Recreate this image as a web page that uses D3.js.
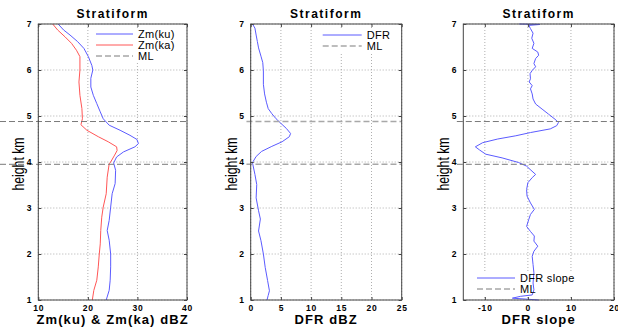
<!DOCTYPE html>
<html>
<head>
<meta charset="utf-8">
<script src="https://cdn.jsdelivr.net/npm/d3@7"></script>
<style>
  body { margin: 0; background: #fff; }
  svg { display: block; font-family: "Liberation Sans", Arial, sans-serif; }
  .grid line { stroke: #9a9a9a; stroke-dasharray: 1,2; stroke-width: 0.8; }
  .tickLabel { font-size: 8.5px; font-weight: bold; letter-spacing: 0.8px; fill: #000; }
  .title { font-size: 12px; font-weight: bold; letter-spacing: 1.5px; }
  .xLabel { font-size: 13px; font-weight: bold; letter-spacing: 1.1px; }
  .yLabel { font-size: 17px; }
  .legendText { font-size: 11px; letter-spacing: 0.3px; }
</style>
</head>
<body>
<div id="chart"></div>
<script>
// heights (km) and values, top to bottom
var zmKuHeight = [7.0,6.87,6.76,6.62,6.47,6.29,6.1,6.0,5.82,5.63,5.45,5.27,5.09,4.94,4.8,4.69,4.58,4.49,4.4,4.33,4.22,4.11,3.98,3.82,3.53,3.31,3.02,2.73,2.51,2.3,2.0,1.72,1.43,1.21,1.0];
var zmKu = [14.0,15.1,16.4,17.9,19.2,20.1,20.8,21.0,20.6,20.6,21.1,21.8,22.5,23.1,24.3,26.5,28.5,29.9,30.2,29.5,27.2,25.8,25.2,25.6,25.5,24.9,24.6,24.3,23.9,24.3,24.6,24.6,24.5,24.3,23.7];

var zmKaHeight = [7.0,6.87,6.72,6.58,6.43,6.29,6.0,5.74,5.45,5.16,4.94,4.81,4.69,4.55,4.44,4.33,4.25,4.15,4.0,3.96,3.67,3.31,3.02,2.8,2.51,2.22,2.0,1.72,1.43,1.21,1.0];
var zmKa = [12.9,13.9,15.4,16.7,17.7,18.4,18.4,18.2,18.4,18.8,18.9,18.6,19.8,22.1,24.1,25.8,25.9,25.4,24.6,24.3,23.9,23.7,23.1,22.8,22.6,22.5,22.3,22.1,21.8,21.2,20.9];

var dfrHeight = [7.0,6.91,6.76,6.62,6.48,6.3,6.16,5.98,5.69,5.48,5.3,5.16,5.05,4.94,4.84,4.73,4.62,4.55,4.44,4.34,4.23,4.12,4.01,3.98,3.73,3.51,3.22,2.94,2.76,2.5,2.29,2.0,1.71,1.42,1.2,1.1,1.0];
var dfr = [0.3,0.7,0.9,1.1,1.3,1.7,2.0,2.1,2.1,2.3,2.6,2.9,3.5,4.2,5.0,5.9,6.6,6.4,5.2,3.5,1.8,0.9,0.4,0.3,0.7,1.0,0.9,1.3,1.6,1.3,1.7,2.1,2.4,2.8,3.1,2.9,2.7];

var slopeHeight = [7.0,6.99,6.97,6.9,6.8,6.69,6.58,6.47,6.39,6.32,6.25,6.14,6.07,5.99,5.92,5.81,5.74,5.66,5.59,5.48,5.37,5.26,5.15,5.04,4.93,4.86,4.79,4.72,4.64,4.57,4.5,4.42,4.33,4.26,4.17,4.09,3.99,3.91,3.84,3.73,3.66,3.55,3.4,3.26,3.11,2.97,2.86,2.75,2.6,2.49,2.39,2.28,2.17,2.06,1.95,1.77,1.59,1.37,1.22,1.11,1.08,1.04,1.0];
var dfrSlope = [-2.0,2.8,0.2,0.6,1.2,0.9,1.4,1.0,2.3,2.5,1.8,1.4,1.8,1.0,0.5,0.6,0.3,1.0,0.6,1.0,1.2,1.8,3.3,4.8,6.3,7.1,6.7,5.2,0.6,-2.8,-7.0,-10.5,-12.2,-11.2,-9.8,-6.0,-2.2,-0.3,0.5,1.8,1.0,0.0,-0.3,-0.2,0.6,1.5,0.6,0.2,-0.3,0.6,1.5,1.4,2.3,1.4,1.0,1.2,1.4,1.2,1.4,1.0,-1.7,-3.6,2.5];

// melting layer top / bottom
var mlHeights = [4.88, 3.95];

var heightTicks = [1,2,3,4,5,6,7];
var zmTicks = [10,20,30,40];
var dfrTicks = [0,5,10,15,20,25];
var slopeTicks = [-10,0,10,20];

var width = 618, height = 330;
var plotTop = 24, plotBottom = 300;

var svg = d3.select("#chart").append("svg")
    .attr("width", width)
    .attr("height", height);

var y = d3.scaleLinear().domain([1, 7]).range([plotBottom, plotTop]);

function zip(hs, vs) {
    return hs.map(function(h, i) { return {h: h, v: vs[i]}; });
}

/**
 * draws one profile panel
 */
function drawPanel(p) {
    var x = d3.scaleLinear().domain(p.domain).range([p.left, p.right]);
    var g = svg.append("g");

    // dotted grid
    var grid = g.append("g").attr("class", "grid");
    grid.selectAll("line.gx").data(p.ticks).enter().append("line")
        .attr("class", "gx")
        .attr("x1", function(d) { return x(d); }).attr("x2", function(d) { return x(d); })
        .attr("y1", plotTop).attr("y2", plotBottom);
    grid.selectAll("line.gy").data(heightTicks).enter().append("line")
        .attr("class", "gy")
        .attr("y1", function(d) { return y(d); }).attr("y2", function(d) { return y(d); })
        .attr("x1", p.left).attr("x2", p.right);

    // legend background (drawn before the curves like the original)
    var lg = p.legend;
    g.append("rect")
        .attr("x", lg.x - 4).attr("y", lg.y - 6)
        .attr("width", lg.w).attr("height", lg.items.length * 11 + 1)
        .attr("fill", "#fff");

    var line = d3.line()
        .x(function(d) { return x(d.v); })
        .y(function(d) { return y(d.h); });

    p.series.forEach(function(s) {
        g.append("path")
            .datum(zip(s.h, s.v))
            .attr("d", line)
            .attr("fill", "none")
            .attr("stroke", s.color)
            .attr("stroke-width", 1);
    });

    // melting layer lines
    g.selectAll("line.ml").data(mlHeights).enter().append("line")
        .attr("class", "ml")
        .attr("x1", Math.max(0, x(p.mlFrom))).attr("x2", p.right)
        .attr("y1", function(d) { return y(d); }).attr("y2", function(d) { return y(d); })
        .attr("stroke", p.mlColor)
        .attr("stroke-width", p.mlWidth)
        .attr("stroke-dasharray", "6,3");

    // axes: box with inward ticks
    var tick = 3;
    var axisColor = "#444";
    g.append("rect")
        .attr("x", p.left).attr("y", plotTop)
        .attr("width", p.right - p.left).attr("height", plotBottom - plotTop)
        .attr("fill", "none").attr("stroke", axisColor).attr("stroke-width", 1);

    var bottomAxis = d3.axisBottom(x).tickValues(p.ticks).tickSizeInner(-tick).tickSizeOuter(0);
    var gx = g.append("g").attr("transform", "translate(0," + plotBottom + ")").call(bottomAxis);
    gx.select(".domain").remove();
    gx.selectAll(".tick line").attr("stroke", axisColor);
    gx.selectAll(".tick text").attr("class", "tickLabel").attr("y", 5).attr("dy", "0.71em")
        .text(function(d) { return d < 0 ? "-" + Math.abs(d) : d; });

    var topAxis = d3.axisTop(x).tickValues(p.ticks).tickSizeInner(-tick).tickSizeOuter(0).tickFormat("");
    var gt = g.append("g").attr("transform", "translate(0," + plotTop + ")").call(topAxis);
    gt.select(".domain").remove();
    gt.selectAll(".tick line").attr("stroke", axisColor);

    var leftAxis = d3.axisLeft(y).tickValues(heightTicks).tickSizeInner(-tick).tickSizeOuter(0).tickFormat(d3.format("d"));
    var gy = g.append("g").attr("transform", "translate(" + p.left + ",0)").call(leftAxis);
    gy.select(".domain").remove();
    gy.selectAll(".tick line").attr("stroke", axisColor);
    gy.selectAll(".tick text").attr("class", "tickLabel").attr("x", -6);

    var rightAxis = d3.axisRight(y).tickValues(heightTicks).tickSizeInner(-tick).tickSizeOuter(0).tickFormat("");
    var gr = g.append("g").attr("transform", "translate(" + p.right + ",0)").call(rightAxis);
    gr.select(".domain").remove();
    gr.selectAll(".tick line").attr("stroke", axisColor);

    // let the css classes set the fonts
    g.selectAll("g").attr("font-family", null).attr("font-size", null);

    // legend entries
    lg.items.forEach(function(it, i) {
        var ly = lg.y + i * 11;
        g.append("line")
            .attr("x1", lg.x).attr("x2", lg.x + lg.lineLen)
            .attr("y1", ly).attr("y2", ly)
            .attr("stroke", it.color)
            .attr("stroke-width", it.dash ? p.mlWidth : 1)
            .attr("stroke-dasharray", it.dash ? "6,3" : null);
        g.append("text")
            .attr("class", "legendText")
            .attr("x", lg.x + lg.lineLen + 5).attr("y", ly + 4)
            .text(it.label);
    });

    // texts
    var cx = (p.left + p.right) / 2;
    g.append("text").attr("class", "title")
        .attr("x", cx).attr("y", 18).attr("text-anchor", "middle")
        .text("Stratiform");
    g.append("text").attr("class", "xLabel")
        .attr("x", cx).attr("y", 324).attr("text-anchor", "middle")
        .text(p.xLabel);
    g.append("text").attr("class", "yLabel")
        .attr("text-anchor", "middle")
        .attr("transform", "translate(" + (p.left - 14) + ",164) rotate(-90) scale(0.72,1)")
        .text("height km");
}

var blue = "#5b5bff", red = "#ff5656", mlGray = "#7a7a7a";

drawPanel({
    left: 38.3, right: 187, domain: [10, 40], ticks: zmTicks,
    mlFrom: 0, mlColor: mlGray, mlWidth: 1,
    series: [
        {h: zmKuHeight, v: zmKu, color: blue},
        {h: zmKaHeight, v: zmKa, color: red}
    ],
    legend: {x: 96, y: 34, w: 94, lineLen: 37, items: [
        {label: "Zm(ku)", color: blue},
        {label: "Zm(ka)", color: red},
        {label: "ML", color: mlGray, dash: true}
    ]},
    xLabel: "Zm(ku) & Zm(ka) dBZ"
});

drawPanel({
    left: 250.7, right: 401.7, domain: [0, 25], ticks: dfrTicks,
    mlFrom: -0.7, mlColor: "#a8a8a8", mlWidth: 1.6,
    series: [
        {h: dfrHeight, v: dfr, color: blue}
    ],
    legend: {x: 322.7, y: 35, w: 82, lineLen: 39, items: [
        {label: "DFR", color: blue},
        {label: "ML", color: "#a8a8a8", dash: true}
    ]},
    xLabel: "DFR dBZ"
});

drawPanel({
    left: 463.3, right: 614, domain: [-15, 20], ticks: slopeTicks,
    mlFrom: -16.5, mlColor: mlGray, mlWidth: 1,
    series: [
        {h: slopeHeight, v: dfrSlope, color: blue}
    ],
    legend: {x: 477, y: 278, w: 100, lineLen: 38, items: [
        {label: "DFR slope", color: blue},
        {label: "ML", color: mlGray, dash: true}
    ]},
    xLabel: "DFR slope"
});
</script>
</body>
</html>
